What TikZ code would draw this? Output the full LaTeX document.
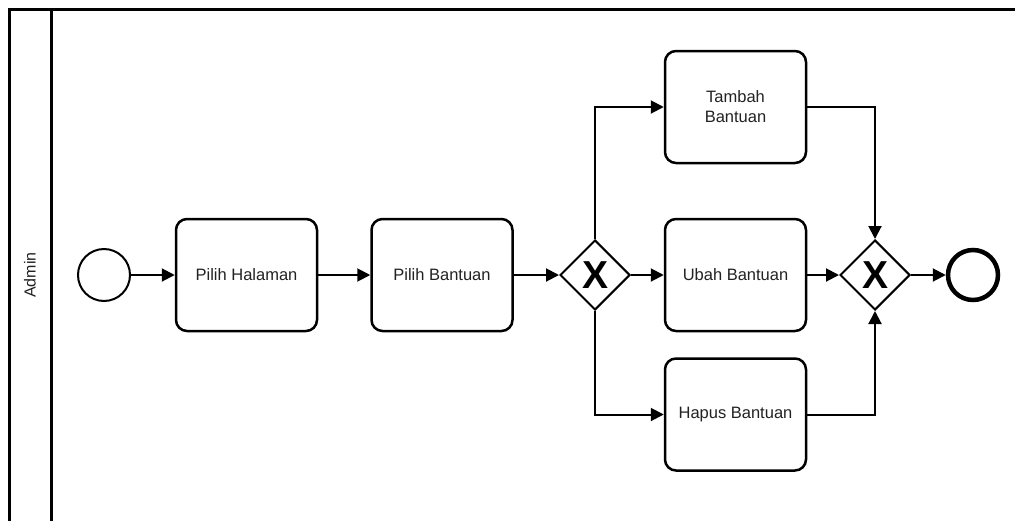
\documentclass[tikz,border=0pt]{standalone}
\usepackage{fontspec}
\setmainfont{Liberation Sans}
\usetikzlibrary{arrows.meta,shapes.geometric}
\definecolor{txt}{HTML}{222222}
\begin{document}
\begin{tikzpicture}[x=1pt,y=-1pt,
  task/.style={draw,line width=2.5pt,rounded corners=11pt,minimum width=141pt,minimum height=112pt,align=center,font=\fontsize{16.5}{20}\selectfont,text=txt,inner sep=0pt},
  gate/.style={draw,diamond,line width=2pt,minimum width=70pt,minimum height=70pt,inner sep=0pt,font=\fontsize{39}{39}\selectfont\bfseries},
  flow/.style={line width=2pt,-{Triangle[length=13pt,width=13pt]}},
  evstart/.style={draw,circle,line width=2pt,minimum size=52pt,inner sep=0pt},
  evend/.style={draw,circle,line width=4.5pt,minimum size=50pt,inner sep=0pt}]
\useasboundingbox (0,0) rectangle (1015,520);
\fill[white] (0,0) rectangle (1015,520);
% pool
\draw[line width=3pt] (9.5,525) -- (9.5,9.5) -- (1020,9.5);
\draw[line width=3pt] (51,9.5) -- (51,525);
\node[rotate=90,font=\fontsize{16}{18}\selectfont,text=txt] (lane) at (30,275) {Admin};
% nodes
\node[evstart] (start) at (104,275) {};
\node[task] (ph) at (246.5,275) {Pilih Halaman};
\node[task] (pb) at (442,275) {Pilih Bantuan};
\node[gate] (g1) at (595,275) {X};
\node[task] (tb) at (735.5,107) {Tambah\\Bantuan};
\node[task] (ub) at (735.5,275) {Ubah Bantuan};
\node[task] (hb) at (735.5,414.5) {Hapus Bantuan};
\node[gate] (g2) at (875,275) {X};
\node[evend] (end) at (973,275) {};
% flows
\draw[flow] (start) -- (ph);
\draw[flow] (ph) -- (pb);
\draw[flow] (pb) -- (g1);
\draw[flow] (g1) -- (ub);
\draw[flow] (ub) -- (g2);
\draw[flow] (g2) -- (end);
\draw[flow] (g1.north) |- (tb.west);
\draw[flow] (g1.south) |- (hb.west);
\draw[flow] (tb.east) -| (g2.north);
\draw[flow] (hb.east) -| (g2.south);
\end{tikzpicture}
\end{document}
